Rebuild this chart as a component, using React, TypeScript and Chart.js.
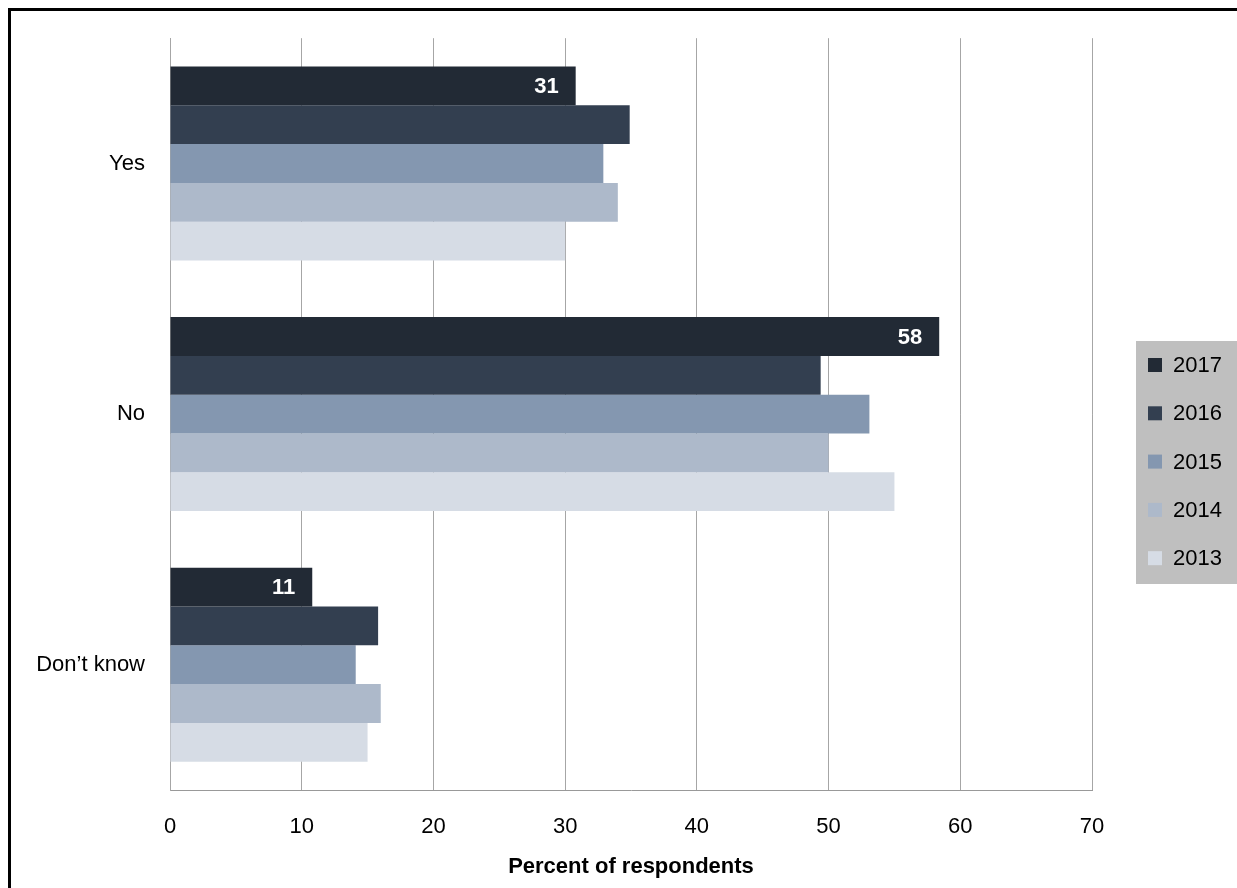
import React, { useEffect, useRef } from "react";
import { Chart, registerables } from "chart.js";

Chart.register(...registerables);

const categories = ["Yes", "No", "Don\u2019t know"];
const seriesLabels = ["2017", "2016", "2015", "2014", "2013"];
const values2017 = [30.8, 58.4, 10.8];
const values2016 = [34.9, 49.4, 15.8];
const values2015 = [32.9, 53.1, 14.1];
const values2014 = [34.0, 50.0, 16.0];
const values2013 = [30.0, 55.0, 15.0];
const seriesColors = ["#222a35", "#333f50", "#8497b0", "#adb9ca", "#d6dce5"];
const xTicks = [0, 10, 20, 30, 40, 50, 60, 70];
const axisTitle = "Percent of respondents";

const FONT = "'Liberation Sans', Arial, sans-serif";

const W = 1237;
const H = 888;
const PLOT_LEFT = 170;
const PLOT_RIGHT = 1092;
const PLOT_TOP = 38;
const PLOT_BOTTOM = 790;

const barLabelPlugin = {
  id: "barLabels",
  afterDatasetsDraw(chart: any) {
    const ctx = chart.ctx;
    const meta = chart.getDatasetMeta(0);
    const ds = chart.data.datasets[0];
    ctx.save();
    ctx.font = `bold 22px ${FONT}`;
    ctx.fillStyle = "#ffffff";
    ctx.textAlign = "right";
    ctx.textBaseline = "middle";
    meta.data.forEach((el: any, i: number) => {
      ctx.fillText(String(Math.round(ds.data[i])), el.x - 17, el.y + 1);
    });
    ctx.restore();
  },
};

const legendPlugin = {
  id: "customLegend",
  afterDraw(chart: any) {
    const ctx = chart.ctx;
    const boxX = 1136;
    const boxY = 341;
    const boxW = W - boxX;
    const boxH = 243;
    ctx.save();
    ctx.fillStyle = "#bfbfbf";
    ctx.fillRect(boxX, boxY, boxW, boxH);
    ctx.font = `22px ${FONT}`;
    ctx.textAlign = "left";
    ctx.textBaseline = "middle";
    chart.data.datasets.forEach((ds: any, i: number) => {
      const cy = 365 + i * 48.3;
      ctx.fillStyle = ds.backgroundColor;
      ctx.fillRect(1148, cy - 7, 14, 14);
      ctx.fillStyle = "#000000";
      ctx.fillText(ds.label, 1173, cy + 1);
    });
    ctx.restore();
  },
};

export default function App() {
  const ref = useRef<HTMLCanvasElement | null>(null);

  useEffect(() => {
    document.documentElement.style.overflow = "hidden";
    document.body.style.overflow = "hidden";
    if (!ref.current) return;
    const seriesValues = [values2017, values2016, values2015, values2014, values2013];
    const chart = new Chart(ref.current, {
      type: "bar",
      data: {
        labels: categories,
        datasets: seriesLabels.map((label, i) => ({
          label,
          data: seriesValues[i],
          backgroundColor: seriesColors[i],
          borderWidth: 0,
          categoryPercentage: 0.774,
          barPercentage: 1.0,
        })),
      },
      options: {
        indexAxis: "y",
        responsive: false,
        animation: false,
        layout: { padding: { left: 0, top: PLOT_TOP, right: W - PLOT_RIGHT, bottom: 0 } },
        plugins: {
          legend: { display: false },
          tooltip: { enabled: false },
        },
        scales: {
          x: {
            min: 0,
            max: 70,
            afterBuildTicks: (scale: any) => {
              scale.ticks = xTicks.map((v) => ({ value: v }));
            },
            afterFit: (scale: any) => {
              scale.height = H - PLOT_BOTTOM;
            },
            grid: {
              display: true,
              color: "#a6a6a6",
              lineWidth: 1,
              drawTicks: false,
            },
            border: { display: true, color: "#999999", width: 1 },
            ticks: {
              color: "#000000",
              font: { family: FONT, size: 22 },
              padding: 24,
            },
            title: {
              display: true,
              text: axisTitle,
              color: "#000000",
              font: { family: FONT, size: 22, weight: "bold" },
              padding: { top: 0, bottom: 8 },
            },
          },
          y: {
            afterFit: (scale: any) => {
              scale.width = PLOT_LEFT;
            },
            grid: { display: false, drawTicks: false },
            border: { display: true, color: "#a6a6a6", width: 1 },
            ticks: {
              color: "#000000",
              font: { family: FONT, size: 22 },
              padding: 25,
            },
          },
        },
      },
      plugins: [barLabelPlugin, legendPlugin],
    });
    return () => chart.destroy();
  }, []);

  return (
    <div>
      <div
        style={{
          position: "fixed",
          left: 8,
          top: 8,
          width: 1240,
          height: 900,
          borderTop: "3px solid #000",
          borderLeft: "3px solid #000",
          boxSizing: "border-box",
          background: "#fff",
        }}
      />
      <canvas
        ref={ref}
        width={W}
        height={H}
        style={{ position: "fixed", left: 0, top: 0, display: "block", width: W, height: H }}
      />
    </div>
  );
}
